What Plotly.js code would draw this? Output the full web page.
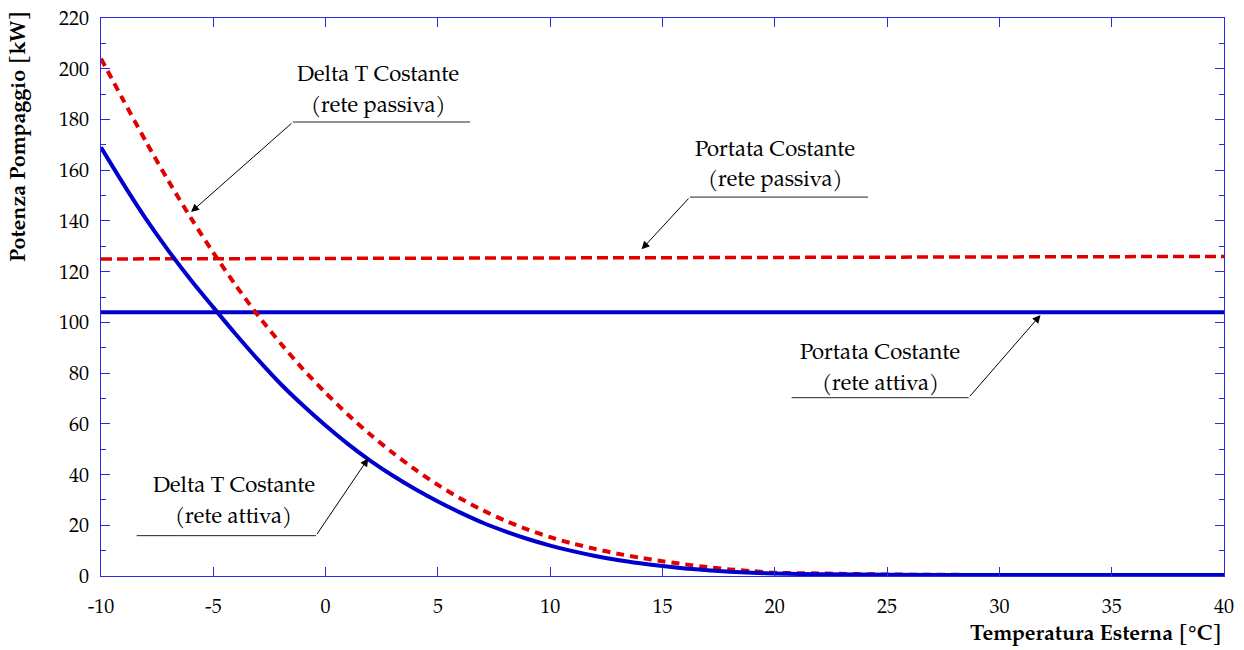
<!DOCTYPE html>
<html>
<head>
<meta charset="utf-8">
<script src="https://cdn.plot.ly/plotly-3.0.1.min.js"></script>
<style>
  html, body { margin: 0; padding: 0; background: #ffffff; }
  #chart { width: 1244px; height: 650px; }
</style>
</head>
<body>
<div id="chart"></div>
<script>
// ---- Data ----
const temps = [-10, -9, -8, -7, -6, -5, -4, -3, -2, -1, 0, 1, 2, 3, 4, 5, 6, 7, 8, 9, 10,
               11, 12, 13, 14, 15, 16, 17, 18, 19, 20, 22, 25, 30, 35, 40];

// Delta T Costante (rete passiva) - red dashed curve
const deltaTPassiva = [204, 187.5, 171.3, 155.8, 141.2, 127.5, 114.6, 102.6, 91.7, 81.5, 72.2,
                       63.6, 55.7, 48.5, 41.9, 35.9, 30.6, 25.9, 21.8, 18.3, 15.3,
                       12.8, 10.7, 8.8, 7.2, 5.8, 4.6, 3.5, 2.6, 1.9, 1.3, 1.0, 0.6, 0.4, 0.4, 0.4];

// Delta T Costante (rete attiva) - blue solid curve
const deltaTAttiva = [169, 154.5, 140.8, 128.3, 116.7, 105.9, 95.3, 85.2, 75.7, 67.2, 59.3,
                      52.0, 45.4, 39.5, 34.2, 29.4, 25.0, 21.0, 17.6, 14.6, 12.0,
                      9.8, 7.9, 6.3, 5.0, 3.9, 3.0, 2.3, 1.7, 1.3, 1.0, 0.7, 0.5, 0.4, 0.4, 0.4];

// Portata Costante lines
const flatTemps = [-10, 40];
const portataPassiva = [125, 126];
const portataAttiva = [104, 104];

// Tick labels
const xTickVals = [-10, -5, 0, 5, 10, 15, 20, 25, 30, 35, 40];
const xTickText = ['-10', '-5', '0', '5', '10', '15', '20', '25', '30', '35', '40'];

// Labels
const xTitle = 'Temperatura Esterna [°C]';
const yTitle = 'Potenza Pompaggio [kW]';

const RED = '#e00000';
const BLUE = '#0000cc';
const AXIS = '#2a2ae6';
const FONT = "TeX Gyre Pagella, Liberation Serif, serif";

const traces = [
  { x: flatTemps, y: portataAttiva, mode: 'lines', line: { color: BLUE, width: 4 }, hoverinfo: 'skip' },
  { x: temps, y: deltaTPassiva, mode: 'lines', line: { color: RED, width: 4, dash: '8px,6px', shape: 'spline', smoothing: 0.8 }, hoverinfo: 'skip' },
  { x: flatTemps, y: portataPassiva, mode: 'lines', line: { color: RED, width: 3.5, dash: '11px,5px' }, hoverinfo: 'skip' },
  { x: temps, y: deltaTAttiva, mode: 'lines', line: { color: BLUE, width: 4, shape: 'spline', smoothing: 0.8 }, hoverinfo: 'skip' }
];

function textAnn(x, y, text) {
  return { x: x, y: y, xref: 'x', yref: 'y', text: text, showarrow: false,
           xanchor: 'center', yanchor: 'middle',
           font: { family: FONT, size: 22, color: '#000' } };
}
function arrowAnn(tipX, tipY, tailX, tailY) {
  return { x: tipX, y: tipY, ax: tailX, ay: tailY, xref: 'x', yref: 'y', axref: 'x', ayref: 'y',
           text: '', showarrow: true, arrowhead: 2, arrowsize: 1.6, arrowwidth: 1, arrowcolor: '#000' };
}
function leader(x0, x1, y) {
  return { type: 'line', xref: 'x', yref: 'y', x0: x0, x1: x1, y0: y, y1: y,
           line: { color: '#222', width: 1 } };
}

const annotations = [
  textAnn(2.33, 197.2, 'Delta T Costante'),
  textAnn(2.33, 185.3, '(rete passiva)'),
  arrowAnn(-5.99, 143.5, -1.45, 179.0),

  textAnn(19.99, 167.4, 'Portata Costante'),
  textAnn(19.99, 156.0, '(rete passiva)'),
  arrowAnn(14.07, 128.8, 16.22, 149.4),

  textAnn(24.69, 87.6, 'Portata Costante'),
  textAnn(24.69, 75.6, '(rete attiva)'),
  arrowAnn(31.83, 102.9, 28.63, 70.3),

  textAnn(-4.08, 34.9, 'Delta T Costante'),
  textAnn(-4.08, 22.9, '(rete attiva)'),
  arrowAnn(1.90, 46.4, -0.43, 15.9),

  { x: 1, y: -0.104, xref: 'paper', yref: 'paper', text: '<b>' + xTitle + '</b>', showarrow: false,
    xanchor: 'right', yanchor: 'middle', font: { family: FONT, size: 21.5, color: '#000' } },
  { x: -0.0721, y: 0.787, xref: 'paper', yref: 'paper', text: '<b>' + yTitle + '</b>', showarrow: false,
    textangle: -90, xanchor: 'center', yanchor: 'middle', font: { family: FONT, size: 21.5, color: '#000' } }
];

const shapes = [
  leader(-1.45, 6.43, 179.0),
  leader(16.22, 24.15, 149.4),
  leader(20.75, 28.63, 70.3),
  leader(-8.41, -0.43, 15.9)
];

const layout = {
  width: 1244, height: 650,
  margin: { l: 101, r: 20, t: 18, b: 74 },
  paper_bgcolor: '#ffffff', plot_bgcolor: '#ffffff',
  showlegend: false,
  font: { family: FONT, size: 20, color: '#000' },
  xaxis: {
    range: [-10, 40], tickmode: 'array', tickvals: xTickVals, ticktext: xTickText,
    ticks: 'inside', ticklen: 9, tickwidth: 1, tickcolor: AXIS,
    showline: true, linecolor: AXIS, linewidth: 1, mirror: 'ticks', showgrid: false, zeroline: false,
    tickfont: { family: FONT, size: 20, color: '#000' }, ticklabelstandoff: 12, fixedrange: true
  },
  yaxis: {
    range: [0, 220], tick0: 0, dtick: 20, ticks: 'inside', ticklen: 9, tickwidth: 1, tickcolor: AXIS,
    minor: { dtick: 10, ticks: 'inside', ticklen: 5, tickcolor: AXIS, showgrid: false },
    showline: true, linecolor: AXIS, linewidth: 1, mirror: 'ticks', showgrid: false, zeroline: false,
    tickfont: { family: FONT, size: 20, color: '#000' }, ticklabelstandoff: 7, fixedrange: true
  },
  annotations: annotations,
  shapes: shapes
};

Plotly.newPlot('chart', traces, layout, { staticPlot: true, displayModeBar: false });
</script>
</body>
</html>
